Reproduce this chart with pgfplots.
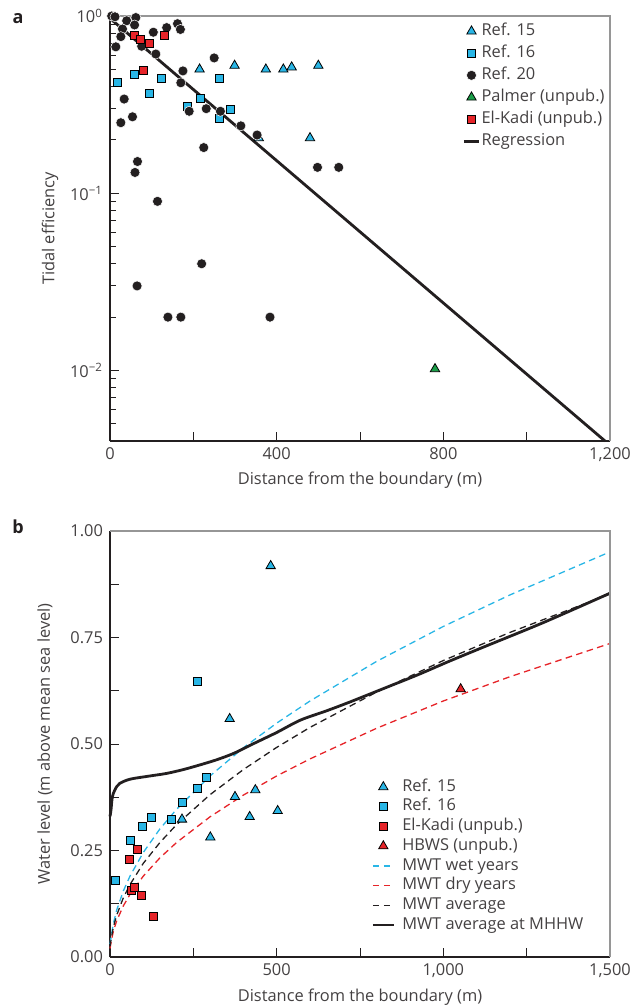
\documentclass[border=0pt]{standalone}
\usepackage{fontspec}
\setmainfont{Open Sans}
\usepackage{pgfplots}
\pgfplotsset{compat=1.18}

\definecolor{cy}{RGB}{41,182,230}
\definecolor{myred}{RGB}{230,36,41}
\definecolor{gn}{RGB}{26,158,72}
\definecolor{bk}{RGB}{35,31,32}
\definecolor{frm}{RGB}{150,150,150}

\newcommand\lfont{\fontsize{8.2}{9.8}\selectfont}
\def\lw{0.27cm}\def\lwh{0.135cm}

\pgfplotsset{
  mk/.style={only marks,
    legend image code/.code={\draw[mark repeat=2,mark phase=2,##1] plot coordinates {(0cm,0cm) (\lwh,0cm) (\lw,0cm)};}},
  ln/.style={legend image code/.code={\draw[##1] (0cm,0cm) -- (\lw,0cm);}},
  % legend images of the model curves, with fixed colours
  lgwet/.style={legend image code/.code={\draw[cy, line width=0.7pt, dash pattern=on 3.3pt off 2.2pt] (0cm,0cm) -- (\lw,0cm);}},
  lgdry/.style={legend image code/.code={\draw[myred, line width=0.7pt, dash pattern=on 3.3pt off 2.2pt] (0cm,0cm) -- (\lw,0cm);}},
  lgavg/.style={legend image code/.code={\draw[bk, line width=0.7pt, dash pattern=on 3.3pt off 2.2pt] (0cm,0cm) -- (\lw,0cm);}},
  lghw/.style={legend image code/.code={\draw[bk, line width=1.4pt] (0cm,0cm) -- (\lw,0cm);}},
  panel/.style={
    scale only axis, width=250pt,
    axis x line*=bottom, axis y line*=left,
    axis line style={bk, line width=0.6pt},
    tick style={bk, line width=0.5pt},
    major tick length=4.5pt, minor tick length=3pt,
    tick align=inside,
    tick label style={font=\lfont, text=bk!85},
    label style={font=\lfont, text=bk!85},
    /pgf/number format/assume math mode=true,
    legend cell align=left,
    legend style={draw=none, fill=none, font=\lfont,
      nodes={inner sep=0.5pt, text height=6pt, text depth=1.8pt, text=bk!85}},
    clip=false,
  },
  tri/.style={mark=triangle*, mark size=2.7pt, mark options={draw=bk, line width=0.4pt}},
  sq/.style={mark=square*, mark size=2pt, mark options={draw=bk, line width=0.4pt}},
  dot/.style={mark=*, mark size=2.5pt, mark options={draw=white, line width=0.25pt, fill=bk}},
  dsh/.style={line width=0.65pt, dash pattern=on 3.3pt off 2.2pt},
}

\begin{document}
\begin{tikzpicture}
% ---------------- panel a ----------------
\begin{axis}[panel, name=pa,
  height=212.5pt,
  ymode=log, xmin=0, xmax=1200, ymin=0.004, ymax=1,
  xtick={0,200,...,1200}, xticklabels={0,,400,,800,,{1,200}},
  ytick={0.01,0.1,1},
  yticklabels={10\textsuperscript{−2},10\textsuperscript{−1},10\textsuperscript{0}},
  minor ytick={0.005,0.006,0.007,0.008,0.009,0.02,0.03,0.04,0.05,0.06,0.07,0.08,0.09,0.2,0.3,0.4,0.5,0.6,0.7,0.8,0.9},
  xlabel={Distance from the boundary (m)},
  ylabel={Tidal efficiency},
  xlabel style={at={(axis description cs:0.5,-0.092)}, anchor=center},
  ylabel style={at={(axis description cs:-0.12,0.5)}, anchor=center},
  legend style={at={(0.692,0.995)}, anchor=north west, row sep=2.2pt},
]
\addplot[draw=bk, line width=1.4pt, forget plot] coordinates {(0,0.97) (1188,0.004)};

\addplot[mk, tri, mark options={fill=cy}] coordinates {
  (215,0.50) (299,0.525) (374,0.50) (416,0.50) (436,0.514) (500,0.525)
  (357,0.205) (480,0.205)
};
\addlegendentry{Ref. 15}
\addplot[mk, sq, mark options={fill=cy}] coordinates {
  (17.6,0.423) (59,0.469) (95,0.368) (123,0.446) (185,0.31) (218,0.345)
  (262,0.447) (290,0.299) (262,0.265)
};
\addlegendentry{Ref. 16}
\addplot[mk, dot] coordinates {
  (4,1.0) (12,0.99) (40,0.94) (62,0.98) (59,0.89) (30,0.845) (26,0.765)
  (14,0.67) (104,0.81) (136,0.86) (162,0.905) (169,0.84) (76,0.675)
  (110,0.61) (250,0.58) (175,0.49) (170,0.42) (190,0.29) (231,0.30)
  (265,0.29) (314,0.24) (353,0.213) (34,0.34) (54,0.27) (26,0.25)
  (225,0.181) (66,0.151) (60,0.131) (498,0.14) (549,0.14) (114,0.09)
  (220,0.04) (65,0.03) (139,0.02) (170,0.02) (384,0.02)
};
\addlegendentry{Ref. 20}
\addplot[mk, tri, mark options={fill=gn}] coordinates {(780,0.0102)};
\addlegendentry{Palmer (unpub.)}
\addplot[mk, sq, mark options={fill=myred}] coordinates {
  (58,0.774) (73,0.739) (94,0.698) (130,0.778) (81,0.496)
};
\addlegendentry{El-Kadi (unpub.)}
\addlegendimage{ln, draw=bk, line width=1.4pt}
\addlegendentry{Regression}

\draw[frm, line width=0.6pt] (rel axis cs:0,1) -- (rel axis cs:1,1) -- (rel axis cs:1,0);
\node[font=\bfseries\fontsize{9}{10}\selectfont, text=bk] at (rel axis cs:-0.184,0.995) {a};
\end{axis}

% ---------------- panel b ----------------
\def\lw{0.37cm}\def\lwh{0.185cm}
\begin{axis}[panel, name=pb,
  at={(0,-258pt)}, anchor=south west,
  height=213pt,
  xmin=0, xmax=1500, ymin=0, ymax=1,
  xtick={0,250,...,1500}, xticklabels={0,,500,,{1,000},,{1,500}},
  ytick={0,0.125,...,1.0}, yticklabels={0.00,,0.25,,0.50,,0.75,,1.00},
  xlabel={Distance from the boundary (m)},
  ylabel={Water level (m above mean sea level)},
  xlabel style={at={(axis description cs:0.5,-0.094)}, anchor=center},
  ylabel style={at={(axis description cs:-0.13,0.5)}, anchor=center},
  legend style={at={(0.51,0.43)}, anchor=north west, row sep=1.05pt,
    /tikz/every odd column/.append style={column sep=3pt}},
]
% model curves
\addplot[draw=cy, dsh, forget plot] coordinates {
  (0,0.03) (5,0.055) (10,0.078) (20,0.110) (40,0.155) (60,0.190) (100,0.2455)
  (150,0.301) (200,0.347) (300,0.425) (400,0.491) (500,0.549) (600,0.601)
  (800,0.694) (1000,0.776) (1200,0.850) (1500,0.951)
};
\addplot[draw=myred, dsh, forget plot] coordinates {
  (0,0.02) (5,0.042) (10,0.060) (20,0.085) (40,0.120) (60,0.147) (100,0.190)
  (150,0.233) (200,0.269) (300,0.329) (400,0.380) (500,0.425) (600,0.465)
  (800,0.537) (1000,0.601) (1200,0.658) (1500,0.736)
};
\addplot[draw=bk, dsh, forget plot] coordinates {
  (0,0.025) (5,0.049) (10,0.070) (20,0.098) (40,0.139) (60,0.170) (100,0.220)
  (150,0.269) (200,0.311) (300,0.381) (400,0.440) (500,0.492) (600,0.539)
  (800,0.622) (1000,0.696) (1200,0.762) (1500,0.852)
};
\addplot[draw=bk, line width=1.4pt, smooth, forget plot] coordinates {
  (0,0.33) (3,0.345) (6,0.37) (10,0.384) (20,0.400) (30,0.408) (50,0.415)
  (70,0.419) (120,0.425) (170,0.431) (220,0.440) (270,0.451) (320,0.463)
  (371,0.478) (431,0.501) (500,0.527) (571,0.556) (650,0.578) (721,0.599)
  (820,0.630) (922,0.662) (1020,0.695) (1122,0.728) (1300,0.785) (1500,0.854)
};

\addplot[mk, tri, mark options={fill=cy}] coordinates {
  (482,0.918) (359,0.559) (375,0.376) (436,0.392) (216,0.323) (419,0.329)
  (503,0.343) (301,0.281)
};
\addlegendentry{Ref. 15}
\addplot[mk, sq, mark options={fill=cy}] coordinates {
  (262,0.648) (290,0.4225) (262,0.395) (217,0.364) (124,0.327) (183,0.322)
  (96,0.307) (60,0.273) (17,0.179)
};
\addlegendentry{Ref. 16}
\addplot[mk, sq, mark options={fill=myred}] coordinates {
  (82,0.253) (59,0.229) (63,0.1565) (74,0.1635) (94,0.1448) (129,0.0955)
};
\addlegendentry{El-Kadi (unpub.)}
\addplot[mk, tri, mark options={fill=myred}] coordinates {(1052,0.629)};
\addlegendentry{HBWS (unpub.)}
\addlegendimage{lgwet}
\addlegendentry{MWT wet years}
\addlegendimage{lgdry}
\addlegendentry{MWT dry years}
\addlegendimage{lgavg}
\addlegendentry{MWT average}
\addlegendimage{lghw}
\addlegendentry{MWT average at MHHW}

\draw[frm, line width=0.6pt] (rel axis cs:0,1) -- (rel axis cs:1,1) -- (rel axis cs:1,0);
\node[font=\bfseries\fontsize{9}{10}\selectfont, text=bk] at (rel axis cs:-0.184,1.009) {b};
\end{axis}

\pgfresetboundingbox
\useasboundingbox ([xshift=-55pt,yshift=8pt]pa.north west) rectangle ([xshift=16pt,yshift=-24.5pt]pb.south east);
\end{tikzpicture}
\end{document}
